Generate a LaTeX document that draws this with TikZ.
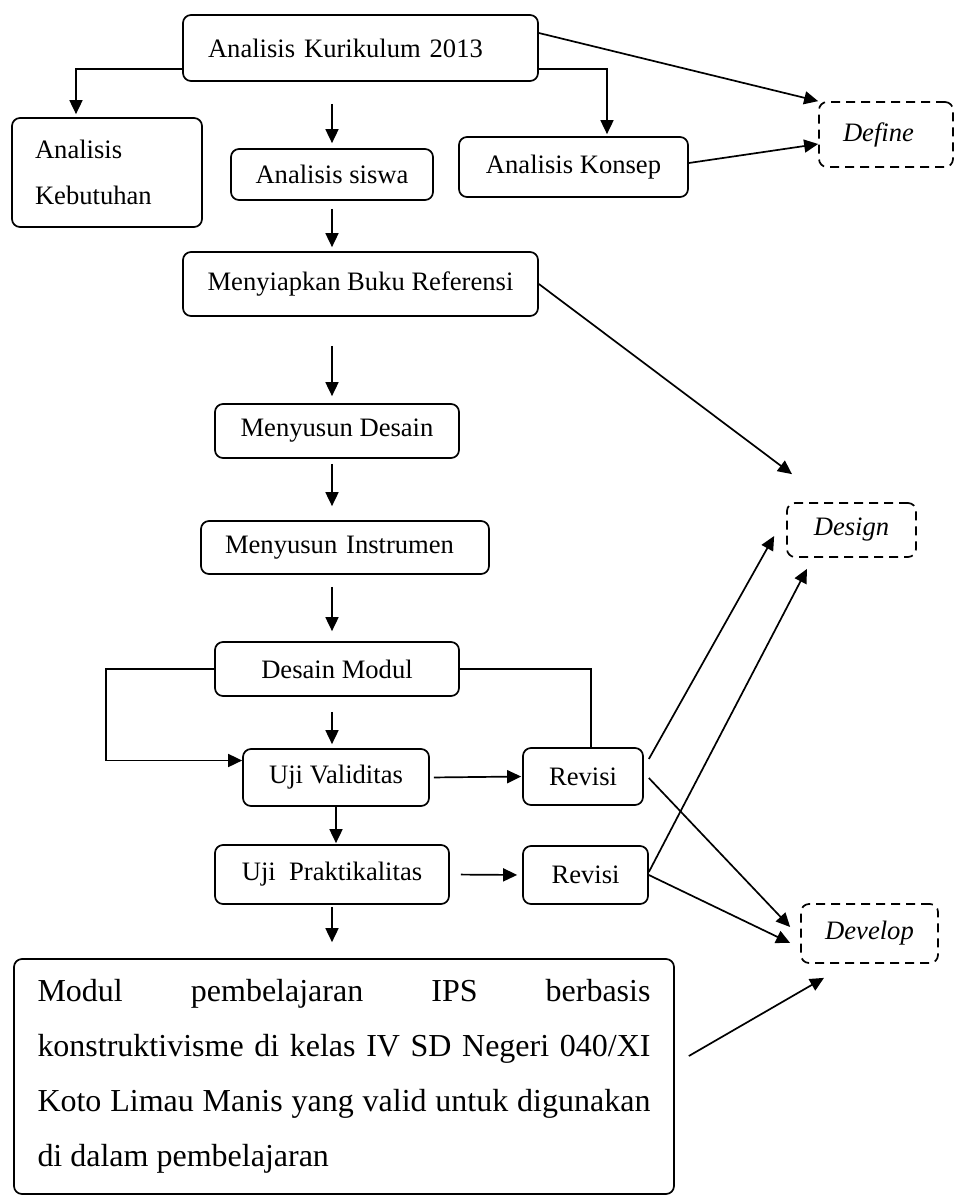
\documentclass[tikz,border=0pt]{standalone}
\usepackage{fontspec}
\setmainfont{Liberation Serif}
\usetikzlibrary{arrows.meta}

\begin{document}
\begin{tikzpicture}[
  x=1pt, y=-1pt,
  box/.style={
    draw, line width=1.7pt, rounded corners=8pt, inner sep=0pt,
    align=center, font=\fontsize{26.6}{46}\selectfont
  },
  phase/.style={box, dash pattern=on 9pt off 6pt,
    font=\fontsize{26.6}{46}\selectfont\itshape},
  conn/.style={line width=1.7pt},
  arrow/.style={conn, -{Triangle[length=14pt, width=13pt]}},
]
  \useasboundingbox (0,0) rectangle (956,1197);

  % Define stage
  \node[box, minimum width=355, minimum height=66, text width=305, align=left]
    (k13) at (360.5,48) {Analisis Kurikulum 2013};
  \node[box, minimum width=190, minimum height=109, text width=144, align=left]
    (keb) at (107,172.5) {Analisis\\Kebutuhan};
  \node[box, minimum width=202, minimum height=51] (siswa) at (332,174.5) {Analisis siswa};
  \node[box, minimum width=229, minimum height=60] (konsep) at (573.5,167) {Analisis Konsep};
  \node[phase, minimum width=134, minimum height=65, text width=86, align=left]
    (def) at (886,134.5) {Define};

  % Design stage
  \node[box, minimum width=355, minimum height=64] (buku) at (360.5,284) {Menyiapkan Buku Referensi};
  \node[box, minimum width=244, minimum height=54] (mdes) at (337,431) {Menyusun Desain};
  \node[box, minimum width=288, minimum height=53, text width=240, align=left]
    (instr) at (345,547.5) {Menyusun Instrumen};
  \node[phase, minimum width=129, minimum height=54] (design) at (851.5,530) {Design};

  % Develop stage
  \node[box, minimum width=244, minimum height=54] (dmod) at (337,669) {Desain Modul};
  \node[box, minimum width=186, minimum height=57] (uv) at (336,777.5) {Uji Validitas};
  \node[box, minimum width=120, minimum height=57] (rev1) at (583,776.5) {Revisi};
  \node[box, minimum width=234, minimum height=59] (up) at (332,874.5) {Uji\ \ Praktikalitas};
  \node[box, minimum width=125, minimum height=58] (rev2) at (585.5,875) {Revisi};
  \node[phase, minimum width=137, minimum height=59] (develop) at (869.5,933.5) {Develop};

  % Final product
  \node[box, minimum width=660, minimum height=235, text width=613, align=justify,
    font=\fontsize{32}{55}\selectfont] (hasil) at (344,1076.5)
    {Modul pembelajaran IPS berbasis\linebreak
     konstruktivisme di kelas IV SD Negeri 040/XI\linebreak
     Koto Limau Manis yang valid untuk digunakan\linebreak
     di dalam pembelajaran};

  % Arrows from the curriculum analysis
  \draw[arrow, shorten >=3pt] ([yshift=-21pt]k13.west) -| ([xshift=-31pt]keb.north);
  \draw[arrow, shorten >=2pt] ([yshift=-21pt]k13.east) -| ([xshift=33.5pt]konsep.north);
  \draw[arrow, shorten <=22pt, shorten >=5pt] (k13.south -| siswa.north) -- (siswa.north);
  \draw[arrow] ([yshift=15pt]k13.east) -- (def.north west);
  \draw[arrow] ([yshift=4pt]konsep.east) -- ([yshift=-9.5pt]def.west);

  % Main column
  \draw[arrow, shorten <=8pt, shorten >=4pt] (siswa.south) -- (siswa.south |- buku.north);
  \draw[arrow, shorten <=29pt, shorten >=7pt] (buku.south -| siswa.south) -- (siswa.south |- mdes.north);
  \draw[arrow, shorten <=5pt, shorten >=14pt] (mdes.south -| siswa.south) -- (siswa.south |- instr.north);
  \draw[arrow, shorten <=12pt, shorten >=10pt] (instr.south -| siswa.south) -- (siswa.south |- dmod.north);
  \draw[arrow, shorten <=15pt, shorten >=4pt] (dmod.south -| siswa.south) -- (siswa.south |- uv.north);
  \draw[arrow, shorten >=1pt] (uv.south) -- (uv.south |- up.north);
  \draw[arrow, shorten <=2pt, shorten >=16pt] (up.south) -- (up.south |- hasil.north);

  % Validation loop
  \draw[arrow] (dmod.west) -- ++(-108,0) |- ([yshift=17pt]uv.west);
  \draw[conn] (dmod.east) -| ([xshift=8pt]rev1.north);
  \draw[arrow, shorten <=4pt, shorten >=1pt] (uv.east) -- (rev1.west);
  \draw[arrow, shorten <=11pt, shorten >=5pt] (up.east) -- (rev2.west);

  % Arrows to the stages
  \draw[arrow] (buku.east) -- ([xshift=-59.5pt, yshift=28pt]design.north);
  \draw[arrow] ([xshift=5pt, yshift=17.5pt]rev1.east) -- ([xshift=-12pt, yshift=-6pt]design.west);
  \draw[arrow] ([yshift=3pt]rev2.east) -- ([xshift=-44.5pt, yshift=-11pt]design.south);
  \draw[arrow] ([xshift=5pt, yshift=-1.5pt]rev1.east) -- ([xshift=-10pt, yshift=6.5pt]develop.west);
  \draw[arrow] (rev2.east) -- ([xshift=-10pt, yshift=-9.5pt]develop.west);
  \draw[arrow] ([xshift=14pt, yshift=20.5pt]hasil.east) -- ([xshift=-45.5pt, yshift=-14pt]develop.south);

\end{tikzpicture}
\end{document}
